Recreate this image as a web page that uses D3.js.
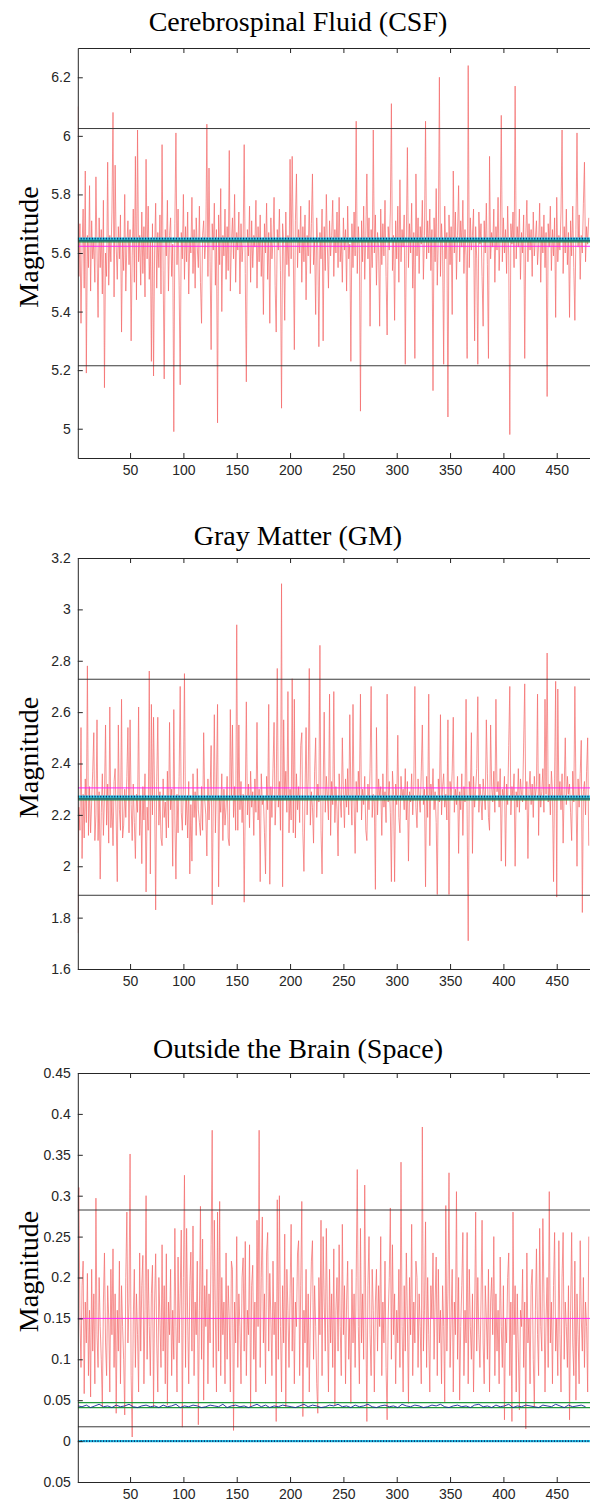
<!DOCTYPE html>
<html>
<head>
<meta charset="utf-8">
<script src="https://cdn.jsdelivr.net/npm/d3@7"></script>
<style>
  body { margin: 0; background: #fff; }
  svg { display: block; }
</style>
</head>
<body>
<div id="chart"></div>
<script>
// sample index 1..480 for every panel
const xTicks = [50, 100, 150, 200, 250, 300, 350, 400, 450];

// Cerebrospinal Fluid (CSF)
const csfValues = [
  6.10,5.52,5.70,5.36,5.62,5.75,5.48,5.88,5.19,5.66,5.55,5.83,5.47,5.71,5.58,5.64,5.50,5.86,5.61,5.38,
  5.72,5.55,5.68,5.46,5.78,5.14,5.60,5.52,5.91,5.49,5.66,5.57,5.74,6.08,5.45,5.90,5.62,5.51,5.69,5.58,
  5.73,5.33,5.65,5.54,5.80,5.47,5.63,5.71,5.56,5.68,5.30,5.59,5.75,5.50,5.93,5.44,6.02,5.57,5.66,5.49,
  5.74,5.53,5.69,5.45,5.92,5.58,5.76,5.51,5.64,5.23,5.70,5.18,5.61,5.77,5.48,5.67,5.55,5.73,5.46,5.97,
  5.54,5.17,5.68,5.59,5.78,5.47,5.66,5.72,5.52,5.63,4.99,5.70,6.01,5.56,5.75,5.49,5.15,5.67,5.58,5.80,
  5.51,5.69,5.57,5.74,5.46,5.65,5.60,5.79,5.53,5.68,5.48,5.72,5.62,5.55,5.76,5.50,5.36,5.66,5.71,5.58,
  5.64,6.04,5.52,5.89,5.57,5.27,5.70,5.61,5.77,5.49,5.68,5.02,5.73,5.56,5.82,5.40,5.66,5.59,5.75,5.51,
  5.69,5.54,5.95,5.47,5.63,5.72,5.58,5.80,5.50,5.67,5.61,5.74,5.46,5.70,5.57,5.64,5.97,5.53,5.16,5.68,
  5.59,5.76,5.50,5.71,5.55,5.66,5.62,5.78,5.48,5.69,5.57,5.73,5.52,5.65,5.39,5.70,5.60,5.77,5.51,5.67,
  5.36,5.72,5.58,5.64,5.79,5.49,5.33,5.68,5.61,5.75,5.54,5.07,5.70,5.63,5.37,5.74,5.56,5.66,5.52,5.92,
  5.58,5.93,5.62,5.27,5.71,5.87,5.55,5.68,5.60,5.76,5.50,5.69,5.57,5.73,5.44,5.66,5.59,5.78,5.53,5.70,
  5.87,5.56,5.64,5.39,5.72,5.61,5.28,5.67,5.58,5.75,5.30,5.69,5.54,5.80,5.62,5.48,5.71,5.59,5.66,5.78,
  5.52,5.68,5.60,5.74,5.55,5.79,5.57,5.65,5.50,5.72,5.61,5.68,5.47,5.76,5.58,5.63,5.23,5.70,5.55,5.74,
  5.59,6.05,5.53,5.69,5.62,5.06,5.71,5.57,5.76,5.51,5.66,5.87,5.58,5.72,5.35,5.68,5.55,6.02,5.60,5.73,
  5.49,5.67,5.62,5.35,5.75,5.56,5.70,5.59,5.78,5.52,5.32,5.69,5.61,5.74,6.11,5.54,5.66,5.37,5.71,5.58,
  5.76,5.50,5.85,5.57,5.68,5.62,5.73,5.22,5.65,5.96,5.55,5.70,5.60,5.77,5.48,5.67,5.24,5.87,5.59,5.72,
  5.53,5.69,5.63,5.78,5.51,5.66,6.05,5.58,5.71,5.60,5.75,5.54,5.68,5.13,5.72,5.57,5.82,5.49,5.65,6.20,
  5.52,5.70,5.61,5.22,5.76,5.58,5.67,5.04,5.73,5.56,5.69,5.39,5.88,5.60,5.74,5.51,5.66,5.83,5.57,5.71,
  5.62,5.78,5.53,5.68,5.59,5.24,6.24,5.55,5.72,5.61,5.66,5.75,5.30,5.69,5.58,5.22,5.74,5.63,5.70,5.52,
  5.35,5.71,5.60,5.77,5.56,5.24,5.93,5.58,5.67,5.62,5.75,5.50,5.69,5.61,5.79,5.54,5.66,6.07,5.57,5.72,
  5.60,5.68,5.53,5.76,5.59,4.98,5.70,5.63,5.74,5.55,6.17,5.58,5.69,5.62,5.75,5.51,5.67,5.60,5.73,5.24,
  5.66,5.78,5.57,5.70,5.61,5.68,5.52,5.74,5.59,5.65,5.71,5.56,5.63,5.77,5.50,5.69,5.60,5.73,5.55,5.67,
  5.11,5.70,5.62,5.76,5.54,5.68,5.59,5.72,5.38,5.79,5.57,5.66,5.61,5.74,6.02,5.53,5.69,5.60,5.75,5.56,
  5.67,5.38,5.71,5.59,5.76,5.55,5.37,5.68,6.01,5.62,5.73,5.51,5.66,5.60,5.77,5.91,5.57,5.69,5.63,5.72
];
const csfYTicks = [5, 5.2, 5.4, 5.6, 5.8, 6, 6.2];
const csfYLabels = ["5", "5.2", "5.4", "5.6", "5.8", "6", "6.2"];
const csfRefs = { upper: 6.025, lower: 5.215, mean: 5.623, greenHi: 5.645, greenLo: 5.638, dotted: 5.649 };

// Gray Matter (GM)
const gmValues = [
  1.74,2.23,2.14,2.54,2.03,2.28,2.11,2.34,2.17,2.78,2.12,2.31,2.13,2.25,2.37,2.52,2.10,2.20,2.57,2.10,
  2.29,1.95,2.21,2.36,2.12,2.27,2.55,2.16,2.32,2.09,2.62,2.15,2.26,2.08,2.33,2.38,2.18,1.94,2.55,2.22,
  2.14,2.65,2.11,2.16,2.30,2.19,2.35,2.54,2.13,2.57,2.24,2.10,2.32,2.17,2.03,2.28,2.21,2.62,2.12,2.26,
  2.01,2.31,2.18,2.36,1.90,2.23,2.14,2.76,1.97,2.63,2.20,2.58,2.27,1.83,2.33,2.58,2.16,2.29,2.11,2.08,
  2.34,2.19,2.25,2.11,2.37,2.15,2.56,2.22,2.30,2.00,2.61,2.18,1.95,2.28,2.13,2.35,2.70,2.21,2.14,2.32,
  2.75,2.16,2.27,2.11,2.33,1.97,2.24,2.02,2.36,2.19,2.29,2.12,2.38,2.22,2.17,2.12,2.31,2.14,2.52,2.26,
  2.20,2.04,2.34,2.18,2.28,2.47,1.85,2.25,2.59,2.13,2.32,2.63,1.92,2.27,2.21,2.36,2.10,2.30,2.16,2.23,
  2.35,2.11,2.08,2.61,2.26,2.55,2.19,2.31,2.14,2.94,2.14,2.55,2.22,2.33,2.17,2.28,1.86,2.25,2.64,2.20,
  2.32,2.15,2.37,2.23,2.29,2.12,2.34,2.21,2.56,2.18,2.30,1.94,2.36,2.24,2.27,2.13,1.97,2.35,2.22,2.63,
  1.93,2.31,2.19,2.38,2.56,2.16,2.28,2.77,2.23,2.33,2.14,3.10,1.92,2.57,2.26,2.37,2.21,2.68,2.13,2.30,
  2.18,2.73,2.13,2.65,2.11,2.36,2.22,2.31,2.17,2.47,2.52,2.13,1.98,2.28,2.54,2.20,2.34,2.77,2.16,2.29,
  2.23,2.09,2.37,2.50,2.19,2.32,2.25,2.86,2.14,1.97,2.30,2.60,2.21,2.35,2.27,2.18,2.67,2.12,2.33,2.24,
  2.68,2.17,2.31,2.22,2.04,2.36,2.26,2.19,2.50,2.28,2.15,2.34,2.23,2.38,2.20,2.59,2.29,2.16,2.63,2.25,
  2.05,2.33,2.21,2.37,2.27,2.67,2.18,2.30,2.24,2.35,2.14,2.10,2.32,2.22,2.38,2.70,2.19,2.28,2.25,1.91,
  2.54,2.20,2.34,2.27,2.31,2.12,2.36,2.23,2.29,2.17,2.67,2.25,2.33,2.21,1.94,2.37,2.28,1.94,2.32,2.24,
  2.51,2.19,2.13,2.35,2.26,2.30,2.22,2.38,2.18,2.33,2.02,2.29,2.25,2.36,2.20,2.31,2.70,2.23,2.15,2.34,
  2.27,2.21,2.37,2.55,2.24,2.30,1.92,2.35,2.19,2.67,2.08,2.32,2.26,2.38,2.22,2.29,2.17,1.89,2.34,2.25,
  2.59,2.20,2.31,2.36,2.23,2.28,2.18,2.57,1.89,2.33,2.26,2.37,2.58,2.21,2.30,2.24,2.35,2.05,2.29,2.22,
  2.36,2.12,2.31,2.25,2.65,2.20,1.71,2.33,2.27,2.52,2.05,2.35,2.23,2.30,2.38,2.66,2.21,2.32,2.26,2.18,
  2.34,2.28,2.22,2.57,2.36,2.19,2.14,2.55,2.31,2.25,2.37,2.21,2.65,2.29,2.33,2.23,2.38,2.02,2.30,2.26,
  2.35,2.00,2.32,2.24,2.47,2.70,2.20,2.31,2.27,2.36,2.00,2.29,2.23,2.38,2.21,2.34,2.28,2.25,2.48,2.71,
  2.22,2.33,2.03,2.30,2.37,2.24,2.32,2.19,2.35,2.27,2.31,2.67,2.12,2.36,2.23,2.29,2.38,2.21,2.65,2.28,
  2.83,2.25,2.32,2.20,2.37,2.29,1.94,2.34,2.72,1.88,2.69,2.27,2.33,2.22,2.36,2.09,2.30,2.50,2.24,2.35,
  2.28,2.32,2.21,2.10,2.37,2.25,2.70,2.30,2.00,2.34,2.23,2.36,2.49,1.82,2.29,2.33,2.20,2.37,2.50,2.08
];
const gmYTicks = [1.6, 1.8, 2, 2.2, 2.4, 2.6, 2.8, 3, 3.2];
const gmYLabels = ["1.6", "1.8", "2", "2.2", "2.4", "2.6", "2.8", "3", "3.2"];
const gmRefs = { upper: 2.728, lower: 1.887, mean: 2.305, greenHi: 2.265, greenLo: 2.258, dotted: 2.271 };

// Outside the Brain (Space)
const spaceValues = [
  0.280,0.310,0.150,0.090,0.190,0.220,0.058,0.170,0.120,0.205,0.080,0.160,0.054,0.210,0.110,0.180,0.070,0.297,0.130,0.090,
  0.200,0.140,0.100,0.042,0.170,0.230,0.120,0.080,0.190,0.150,0.060,0.210,0.130,0.235,0.090,0.180,0.034,0.160,0.110,0.220,
  0.070,0.190,0.140,0.100,0.032,0.200,0.280,0.120,0.170,0.351,0.080,0.005,0.150,0.210,0.090,0.180,0.130,0.060,0.230,0.110,
  0.190,0.227,0.070,0.160,0.300,0.100,0.210,0.140,0.080,0.180,0.215,0.042,0.170,0.229,0.120,0.060,0.200,0.150,0.090,0.240,
  0.110,0.190,0.070,0.229,0.044,0.170,0.130,0.210,0.080,0.160,0.100,0.260,0.140,0.060,0.225,0.120,0.180,0.258,0.017,0.200,
  0.325,0.090,0.260,0.150,0.070,0.190,0.231,0.110,0.263,0.080,0.170,0.130,0.220,0.020,0.160,0.287,0.100,0.247,0.050,0.190,
  0.140,0.210,0.070,0.180,0.120,0.240,0.380,0.090,0.270,0.150,0.060,0.280,0.110,0.293,0.080,0.200,0.130,0.170,0.070,0.230,
  0.100,0.190,0.150,0.060,0.220,0.210,0.013,0.170,0.120,0.250,0.090,0.180,0.140,0.070,0.200,0.224,0.110,0.244,0.080,0.160,
  0.130,0.240,0.042,0.190,0.215,0.100,0.170,0.060,0.270,0.140,0.380,0.090,0.200,0.274,0.120,0.180,0.070,0.230,0.255,0.110,
  0.205,0.150,0.080,0.220,0.130,0.170,0.024,0.295,0.100,0.300,0.140,0.060,0.190,0.120,0.253,0.042,0.210,0.160,0.090,0.180,
  0.265,0.110,0.200,0.070,0.170,0.140,0.230,0.245,0.080,0.190,0.293,0.030,0.160,0.120,0.210,0.090,0.180,0.060,0.150,0.220,
  0.245,0.100,0.190,0.140,0.070,0.034,0.200,0.130,0.270,0.080,0.250,0.170,0.110,0.260,0.150,0.060,0.210,0.120,0.180,0.090,
  0.235,0.044,0.160,0.200,0.110,0.240,0.140,0.080,0.265,0.130,0.190,0.070,0.170,0.220,0.100,0.150,0.046,0.210,0.120,0.180,
  0.090,0.200,0.332,0.140,0.070,0.260,0.120,0.180,0.100,0.313,0.150,0.024,0.190,0.250,0.130,0.080,0.210,0.160,0.060,0.170,
  0.210,0.110,0.190,0.140,0.250,0.080,0.170,0.120,0.220,0.090,0.026,0.150,0.200,0.285,0.100,0.240,0.130,0.180,0.070,0.160,
  0.120,0.210,0.090,0.341,0.140,0.060,0.190,0.110,0.230,0.150,0.046,0.200,0.130,0.265,0.080,0.170,0.120,0.220,0.200,0.090,
  0.180,0.140,0.070,0.384,0.110,0.160,0.268,0.090,0.200,0.130,0.060,0.190,0.150,0.230,0.100,0.170,0.225,0.080,0.210,0.120,
  0.160,0.070,0.190,0.140,0.048,0.288,0.110,0.180,0.328,0.090,0.150,0.210,0.060,0.170,0.130,0.305,0.100,0.200,0.050,0.140,
  0.190,0.255,0.080,0.160,0.120,0.255,0.070,0.210,0.140,0.100,0.180,0.060,0.150,0.280,0.110,0.200,0.130,0.090,0.170,0.270,
  0.120,0.070,0.190,0.150,0.100,0.210,0.060,0.170,0.200,0.130,0.250,0.080,0.180,0.110,0.160,0.070,0.225,0.140,0.090,0.190,
  0.026,0.150,0.120,0.200,0.230,0.080,0.170,0.024,0.280,0.130,0.190,0.060,0.180,0.110,0.038,0.160,0.140,0.210,0.090,0.170,
  0.015,0.230,0.120,0.150,0.070,0.190,0.210,0.100,0.042,0.160,0.235,0.130,0.080,0.260,0.140,0.110,0.272,0.180,0.060,0.150,
  0.200,0.090,0.305,0.120,0.170,0.070,0.190,0.255,0.110,0.150,0.080,0.245,0.130,0.060,0.200,0.255,0.100,0.170,0.140,0.090,
  0.190,0.026,0.160,0.255,0.120,0.080,0.220,0.050,0.180,0.130,0.070,0.245,0.150,0.110,0.200,0.090,0.170,0.140,0.060,0.250
];
// blue running level in the Space panel, one reading every 4th sample (1, 5, 9, ...)
const spaceBlue = [
  0.043,0.042,0.044,0.041,0.043,0.045,0.042,0.043,0.041,0.044,0.042,0.043,0.045,0.042,0.041,0.043,0.044,0.042,0.043,0.041,
  0.044,0.042,0.043,0.045,0.041,0.043,0.042,0.044,0.043,0.041,0.042,0.044,0.043,0.042,0.045,0.041,0.043,0.044,0.042,0.043,
  0.041,0.043,0.045,0.042,0.044,0.041,0.043,0.042,0.044,0.043,0.042,0.041,0.043,0.045,0.042,0.044,0.043,0.041,0.042,0.044,
  0.043,0.045,0.042,0.043,0.041,0.044,0.042,0.043,0.045,0.042,0.041,0.043,0.044,0.042,0.043,0.041,0.045,0.043,0.042,0.044,
  0.043,0.041,0.042,0.044,0.043,0.045,0.042,0.041,0.043,0.044,0.042,0.043,0.041,0.044,0.045,0.042,0.043,0.041,0.044,0.042,
  0.043,0.045,0.041,0.043,0.042,0.044,0.043,0.042,0.041,0.044,0.043,0.042,0.045,0.043,0.041,0.044,0.042,0.043,0.044,0.042
];
const spaceYTicks = [-0.05, 0, 0.05, 0.1, 0.15, 0.2, 0.25, 0.3, 0.35, 0.4, 0.45];
const spaceYLabels = ["0.05", "0", "0.05", "0.1", "0.15", "0.2", "0.25", "0.3", "0.35", "0.4", "0.45"];
const spaceRefs = { upper: 0.2825, lower: 0.0175, mean: 0.150, greenHi: 0.047, greenLo: 0.041, dotted: 0 };

const width = 590;
const height = 1508;

const svg = d3.select("#chart")
  .append("svg")
  .attr("width", width)
  .attr("height", height);

// same horizontal layout for all three panels
const xScale = d3.scaleLinear()
  .domain([1, 481])
  .range([77.8, 589.8]);

function drawPanel(p) {
  const y = d3.scaleLinear().domain(p.yDomain).range([p.bottom, p.top]);
  const g = svg.append("g");

  const clipId = "clip-" + p.id;
  svg.append("clipPath").attr("id", clipId)
    .append("rect")
    .attr("x", xScale(1)).attr("y", p.top)
    .attr("width", width - xScale(1)).attr("height", p.bottom - p.top);

  const plot = g.append("g").attr("clip-path", `url(#${clipId})`);

  const line = d3.line()
    .x((d, i) => xScale(i + 1))
    .y(d => y(d));

  plot.append("path")
    .datum(p.values)
    .attr("fill", "none")
    .attr("stroke", "#f46a6a")
    .attr("stroke-opacity", 0.85)
    .attr("stroke-width", 0.85)
    .attr("d", line);

  const hline = (v, color, w, dash) => {
    const l = plot.append("line")
      .attr("x1", xScale(1)).attr("x2", width)
      .attr("y1", y(v)).attr("y2", y(v))
      .attr("stroke", color)
      .attr("stroke-width", w);
    if (dash) l.attr("stroke-dasharray", dash);
    return l;
  };

  hline(p.refs.upper, "#3a3a3a", 1);
  hline(p.refs.lower, "#3a3a3a", 1);
  hline(p.refs.mean, "#ff22ff", 1);
  hline(p.refs.greenHi, "#1f9a3c", 1.2);
  hline(p.refs.greenLo, "#1f9a3c", 1.2);

  if (p.blue) {
    plot.append("path")
      .datum(p.blue)
      .attr("fill", "none")
      .attr("stroke", "#1a2a9a")
      .attr("stroke-width", 0.9)
      .attr("d", d3.line().x((d, i) => xScale(1 + 4 * i)).y(d => y(d)));
  } else {
    hline((p.refs.greenHi + p.refs.greenLo) / 2, "#1a6a7a", 1.5);
  }

  hline(p.refs.dotted, "#22c8ee", 2.2);
  hline(p.refs.dotted, "#10306a", 1.6, "1.2 1.6");

  // axes (MATLAB style box, ticks pointing inward)
  g.append("g")
    .attr("transform", `translate(0,${p.bottom})`)
    .call(d3.axisBottom(xScale).tickValues(xTicks).tickSizeInner(-5).tickSizeOuter(0).tickPadding(7))
    .call(a => a.selectAll("text").attr("font-size", 14).attr("fill", "#262626").attr("font-family", "Liberation Sans, Arial, sans-serif"));

  g.append("g")
    .attr("transform", `translate(0,${p.top})`)
    .call(d3.axisTop(xScale).tickValues(xTicks).tickSizeInner(-5).tickSizeOuter(0).tickFormat(""));

  g.append("g")
    .attr("transform", `translate(${xScale(1)},0)`)
    .call(d3.axisLeft(y).tickValues(p.yTicks).tickSizeInner(-5).tickSizeOuter(0).tickPadding(7)
      .tickFormat((d, i) => p.yLabels[i]))
    .call(a => a.selectAll("text").attr("font-size", 14).attr("fill", "#262626").attr("font-family", "Liberation Sans, Arial, sans-serif"));

  g.selectAll(".domain, .tick line").attr("stroke", "#262626");

  svg.append("text")
    .attr("x", 298)
    .attr("y", p.titleY)
    .attr("text-anchor", "middle")
    .attr("font-family", "Liberation Serif, Times New Roman, serif")
    .attr("font-size", 28)
    .attr("fill", "#000")
    .text(p.title);

  svg.append("text")
    .attr("transform", `translate(38,${(p.top + p.bottom) / 2 - 6}) rotate(-90)`)
    .attr("text-anchor", "middle")
    .attr("font-family", "Liberation Serif, Times New Roman, serif")
    .attr("font-size", 28)
    .attr("fill", "#000")
    .text("Magnitude");
}

drawPanel({
  id: "csf", title: "Cerebrospinal Fluid (CSF)", titleY: 31,
  top: 48, bottom: 458, yDomain: [4.9, 6.3],
  yTicks: csfYTicks, yLabels: csfYLabels, values: csfValues, refs: csfRefs
});

drawPanel({
  id: "gm", title: "Gray Matter (GM)", titleY: 545,
  top: 558, bottom: 969, yDomain: [1.6, 3.2],
  yTicks: gmYTicks, yLabels: gmYLabels, values: gmValues, refs: gmRefs
});

drawPanel({
  id: "space", title: "Outside the Brain (Space)", titleY: 1058,
  top: 1073, bottom: 1482, yDomain: [-0.05, 0.45],
  yTicks: spaceYTicks, yLabels: spaceYLabels, values: spaceValues, refs: spaceRefs, blue: spaceBlue
});
</script>
</body>
</html>
